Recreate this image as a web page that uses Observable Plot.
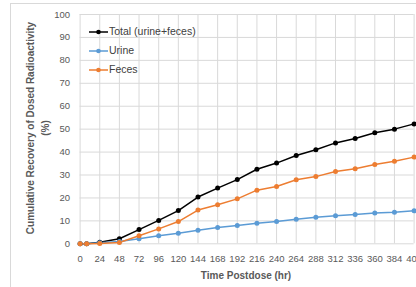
<!DOCTYPE html>
<html><head><meta charset="utf-8">
<script src="https://cdn.jsdelivr.net/npm/d3@7"></script>
<script src="https://cdn.jsdelivr.net/npm/@observablehq/plot@0.6"></script>
<style>
body{margin:0;background:#fff;}
#wrap{position:relative;width:416px;height:287px;overflow:hidden;font-family:"Liberation Sans",Arial,sans-serif;background:#fff;}
#frame{position:absolute;left:10px;top:3px;width:440px;height:320px;border:1px solid #d9d9d9;box-sizing:border-box;pointer-events:none;}
#chart{position:absolute;left:0;top:0;}
#legend{position:absolute;left:89px;top:22px;font-size:10.5px;color:#404040;line-height:19px;}
#legend .row{display:flex;align-items:center;height:19px;white-space:nowrap;}
#legend svg{margin-right:1px;}
.ytitle{position:absolute;font-size:10px;font-weight:bold;color:#595959;white-space:nowrap;transform:translate(-50%,-50%) rotate(-90deg);}
#xtitle{position:absolute;left:246px;top:275px;font-size:10px;font-weight:bold;color:#595959;white-space:nowrap;transform:translate(-50%,-50%);}
</style>
</head><body>
<div id="wrap">
<div id="chart"></div>
<div id="frame"></div>
<div id="legend"></div>
<div class="ytitle" style="left:30px;top:128px;">Cumulative Recovery of Dosed Radioactivity</div>
<div class="ytitle" style="left:45px;top:128px;">(%)</div>
<div id="xtitle">Time Postdose (hr)</div>
</div>
<script>
const hours = [0, 8, 24, 48, 72, 96, 120, 144, 168, 192, 216, 240, 264, 288, 312, 336, 360, 384, 408];
const total = [0, 0, 0.7, 2.2, 6.2, 10.2, 14.5, 20.4, 24.3, 28.0, 32.5, 35.2, 38.5, 41.0, 44.0, 45.9, 48.4, 50.0, 52.3];
const urine = [0, 0, 0.5, 1.0, 2.2, 3.5, 4.6, 5.9, 7.1, 8.0, 9.0, 9.7, 10.7, 11.6, 12.2, 12.8, 13.4, 13.8, 14.4];
const feces = [0, 0, 0.1, 0.6, 3.5, 6.5, 9.7, 14.7, 17.0, 19.6, 23.4, 25.0, 27.9, 29.3, 31.5, 32.7, 34.6, 36.0, 37.8];
const seriesNames = ["Total (urine+feces)", "Urine", "Feces"];
const seriesColors = ["#000000", "#5b9bd5", "#ed7d31"];
const xTicks = [0, 24, 48, 72, 96, 120, 144, 168, 192, 216, 240, 264, 288, 312, 336, 360, 384, 408];
const yTicks = [0, 10, 20, 30, 40, 50, 60, 70, 80, 90, 100];

const seriesValues = [total, urine, feces];
const rows = [];
seriesNames.forEach((name, i) => {
  hours.forEach((h, j) => rows.push({series: name, hour: h, value: seriesValues[i][j]}));
});

const chart = Plot.plot({
  width: 416, height: 287,
  marginLeft: 79.6, marginRight: 2.4, marginTop: 14, marginBottom: 43.7,
  style: {fontSize: "9.5px", fontFamily: "'Liberation Sans', Arial, sans-serif", color: "#595959", background: "transparent"},
  x: {domain: [0, 408], ticks: xTicks, tickSize: 0, tickPadding: 11, label: null},
  y: {domain: [0, 100], ticks: yTicks, tickSize: 0, tickPadding: 10, label: null},
  color: {domain: seriesNames, range: seriesColors},
  marks: [
    Plot.ruleX(xTicks, {stroke: "#d9d9d9", strokeWidth: 1}),
    Plot.ruleY(yTicks, {stroke: "#d9d9d9", strokeWidth: 1}),
    Plot.line(rows, {x: "hour", y: "value", z: "series", stroke: "series", strokeWidth: 1.5}),
    Plot.dot(rows, {x: "hour", y: "value", fill: "series", r: 2.5, stroke: null})
  ]
});
document.getElementById("chart").appendChild(chart);

const legend = document.getElementById("legend");
seriesNames.forEach((name, i) => {
  const row = document.createElement("div");
  row.className = "row";
  row.innerHTML = `<svg width="19" height="8"><line x1="0" y1="4" x2="19" y2="4" stroke="${seriesColors[i]}" stroke-width="1.5"/><circle cx="9.5" cy="4" r="2.3" fill="${seriesColors[i]}"/></svg><span>${name}</span>`;
  legend.appendChild(row);
});
</script>
</body></html>
